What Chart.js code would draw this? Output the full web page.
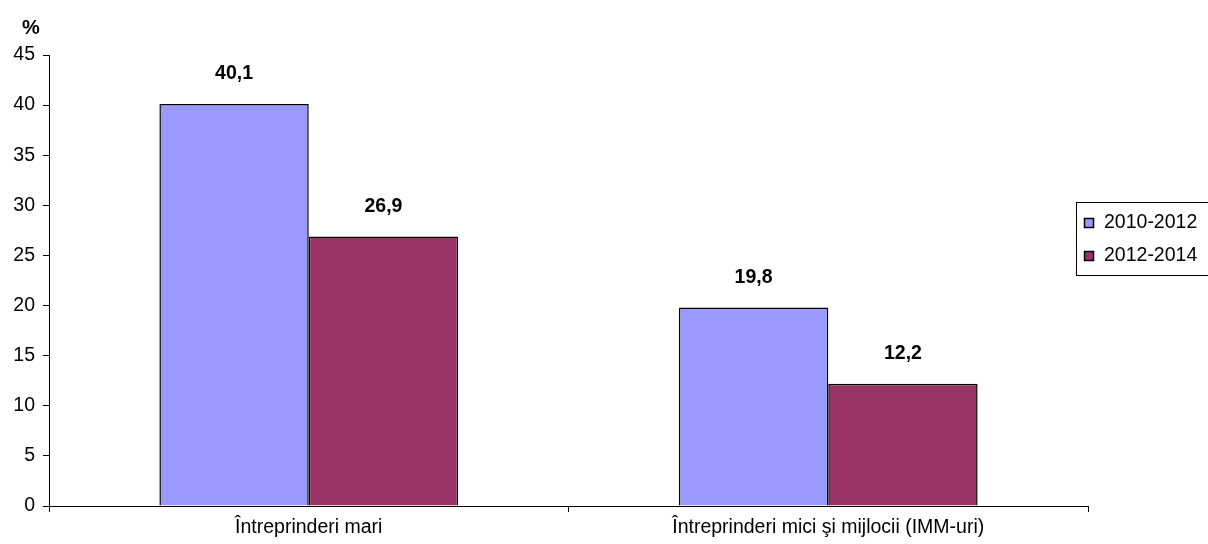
<!DOCTYPE html>
<html>
<head>
<meta charset="utf-8">
<script src="https://cdn.jsdelivr.net/npm/chart.js@4"></script>
<style>
  html, body { margin: 0; padding: 0; background: #fff; }
  #wrap { width: 1208px; height: 544px; position: relative; }
</style>
</head>
<body>
<div id="wrap"><canvas id="myChart"></canvas></div>
<script>
var categories = ['Întreprinderi mari', 'Întreprinderi mici şi mijlocii (IMM-uri)']
var series1 = [40.1, 19.8]
var series2 = [26.9, 12.2]
var seriesNames = ['2010-2012', '2012-2014']
var yTicks = [0, 5, 10, 15, 20, 25, 30, 35, 40, 45]

var fontFamily = 'Arial, "Liberation Sans", sans-serif'

// value labels above the bars, "%" unit and framed legend
var extras = {
    id: 'extras',
    afterDatasetsDraw: function(chart) {
        var ctx = chart.ctx
        ctx.save()
        ctx.fillStyle = '#000'
        ctx.font = 'bold 19.5px ' + fontFamily
        ctx.textAlign = 'center'
        ctx.textBaseline = 'middle'
        chart.data.datasets.forEach(function(ds, i) {
            chart.getDatasetMeta(i).data.forEach(function(bar, j) {
                ctx.fillText(String(ds.data[j]).replace('.', ','), bar.x, bar.y - 30)
            })
        })
        ctx.font = 'bold 20px ' + fontFamily
        ctx.fillText('%', 31, 28)

        // legend
        var lx = 1076, ly = 202
        ctx.lineWidth = 1
        ctx.strokeStyle = '#000'
        ctx.strokeRect(lx + 0.5, ly + 0.5, 140, 73)
        ctx.font = '19.5px ' + fontFamily
        ctx.textAlign = 'left'
        chart.data.datasets.forEach(function(ds, i) {
            var cy = ly + 20 + i * 33
            ctx.fillStyle = ds.backgroundColor
            ctx.fillRect(lx + 8, cy - 4, 10, 10)
            ctx.lineWidth = 1.5
            ctx.strokeRect(lx + 8.5, cy - 3.5, 9, 9)
            ctx.fillStyle = '#000'
            ctx.fillText(ds.label, lx + 28, cy + 1)
        })
        ctx.restore()
    }
}

function setChart() {
    var ctx = document.getElementById('myChart')
    var myChart = new Chart(ctx, {
        type: 'bar',
        data: {
            labels: categories,
            datasets: [{
                label: seriesNames[0],
                data: series1,
                backgroundColor: '#9999FF',
                borderColor: '#000000',
                borderWidth: 1.5,
                categoryPercentage: 0.575,
                barPercentage: 1.0
            }, {
                label: seriesNames[1],
                data: series2,
                backgroundColor: '#993366',
                borderColor: '#000000',
                borderWidth: 1.5,
                categoryPercentage: 0.575,
                barPercentage: 1.0
            }]
        },
        options: {
            responsive: true,
            maintainAspectRatio: false,
            animation: false,
            layout: { padding: { top: 55, right: 120, left: 0, bottom: 0 } },
            plugins: {
                legend: { display: false },
                tooltip: { enabled: false }
            },
            scales: {
                x: {
                    grid: {
                        offset: true,
                        drawOnChartArea: false,
                        drawTicks: true,
                        tickLength: 6,
                        color: '#000'
                    },
                    border: { color: '#000', width: 1 },
                    ticks: {
                        color: '#000',
                        font: { family: fontFamily, size: 19.5 },
                        padding: 4,
                        maxRotation: 0
                    },
                    afterFit: function(s) { s.height = 38 }
                },
                y: {
                    min: 0,
                    max: 45,
                    afterBuildTicks: function(s) {
                        s.ticks = yTicks.map(function(v) { return { value: v } })
                    },
                    grid: {
                        drawOnChartArea: false,
                        drawTicks: true,
                        tickLength: 6,
                        color: '#000'
                    },
                    border: { color: '#000', width: 1 },
                    ticks: {
                        color: '#000',
                        font: { family: fontFamily, size: 19.5 },
                        padding: 8
                    },
                    afterFit: function(s) { s.width = 49 }
                }
            }
        },
        plugins: [extras]
    })
}

setChart()
</script>
</body>
</html>
